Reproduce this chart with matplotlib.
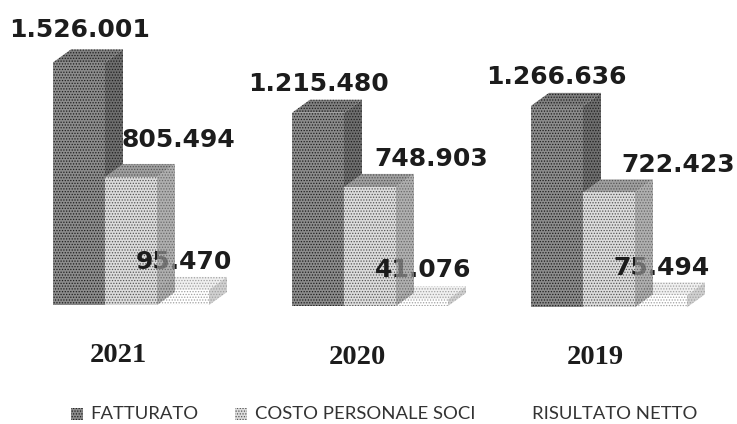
import matplotlib
matplotlib.use('Agg')
import matplotlib.pyplot as plt
from matplotlib.patches import Polygon

plt.rcParams['font.family'] = ['DejaVu Sans']
plt.rcParams['hatch.linewidth'] = 0.6

# data
years = ['2021', '2020', '2019']
fatturato = [1526001, 1215480, 1266636]
costo = [805494, 748903, 722423]
risultato = [95470, 41076, 75494]
fatturato_labels = ['1.526.001', '1.215.480', '1.266.636']
costo_labels = ['805.494', '748.903', '722.423']
risultato_labels = ['95.470', '41.076', '75.494']
legend_names = ['FATTURATO', 'COSTO PERSONALE SOCI', 'RISULTATO NETTO']

fig = plt.figure(figsize=(7.37, 4.24), dpi=100)
ax = fig.add_axes([0, 0, 1, 1])
# x in pixels, y in euro, baseline around pixel 306
scale = 0.159 / 1000
ax.set_xlim(0, 737)
ax.set_ylim(-118 / scale, 306 / scale)
ax.axis('off')

bar_w = 52
depth_x = 18
depth_y = 13 / scale
group_x = [53, 292, 531]
tilt = [6000, 0, -8000]


def bar3d(x, base, value, front, top, side, ink, z, side_z=None, side_alpha=1):
    y0 = base
    y1 = base + value
    xr = x + bar_w
    ax.add_patch(Polygon([(x, y1), (x + depth_x, y1 + depth_y), (xr + depth_x, y1 + depth_y), (xr, y1)],
                         facecolor=top, edgecolor=ink, hatch='......', lw=0, zorder=z))
    ax.add_patch(Polygon([(xr, y0), (xr, y1), (xr + depth_x, y1 + depth_y), (xr + depth_x, y0 + depth_y)],
                         facecolor=side, edgecolor=ink, hatch='......', lw=0, alpha=side_alpha,
                         zorder=side_z if side_z else z))
    ax.add_patch(Polygon([(x, y0), (x, y1), (xr, y1), (xr, y0)],
                         facecolor=front, edgecolor=ink, hatch='......', lw=0, zorder=z + 0.5))


for i in range(3):
    x = group_x[i]
    b = tilt[i]
    bar3d(x + 2 * bar_w, b, risultato[i], 'white', '#f0f0f0', '#d0d0d0', '#a0a0a0', 2)
    # the side of the light bar lies over the small labels
    bar3d(x + bar_w, b, costo[i], '#dcdcdc', '#a0a0a0', '#949494', '#555555', 3, side_z=11, side_alpha=0.75)
    bar3d(x, b, fatturato[i], '#8c8c8c', '#808080', '#6e6e6e', '#1e1e1e', 1)


# text positions in pixels from the top
def px_text(x, y, s, size, weight='bold', color='#1c1c1c', ha='center', family=None):
    ax.text(x, (306 - y) / scale, s, fontsize=size, fontweight=weight, color=color,
            ha=ha, va='center', zorder=10, family=family)


f_pos = [(80, 30), (319, 84), (556, 77)]
c_pos = [(178, 140), (431, 159), (678, 165)]
r_pos = [(184, 262), (423, 270), (662, 268)]
y_pos = [(118, 355), (357, 357), (595, 358)]
for i in range(3):
    px_text(f_pos[i][0], f_pos[i][1], fatturato_labels[i], 18)
    px_text(c_pos[i][0], c_pos[i][1], costo_labels[i], 18)
    px_text(r_pos[i][0], r_pos[i][1], risultato_labels[i], 18)
    px_text(y_pos[i][0], y_pos[i][1], years[i], 20.5, family='Liberation Serif')

# legend
leg_x = [144, 365, 614.5]
for i in range(3):
    px_text(leg_x[i], 414, legend_names[i], 13.3, weight='normal', color='#333333', family='Lato')
sq = 12
ax.add_patch(Polygon([(71, (306 - 408) / scale), (71 + sq, (306 - 408) / scale),
                      (71 + sq, (306 - 420) / scale), (71, (306 - 420) / scale)],
                     facecolor='#8c8c8c', edgecolor='#1e1e1e', hatch='......', lw=0))
ax.add_patch(Polygon([(235, (306 - 408) / scale), (235 + sq, (306 - 408) / scale),
                      (235 + sq, (306 - 420) / scale), (235, (306 - 420) / scale)],
                     facecolor='#dcdcdc', edgecolor='#555555', hatch='......', lw=0))

fig.savefig('out.png', dpi=100)
